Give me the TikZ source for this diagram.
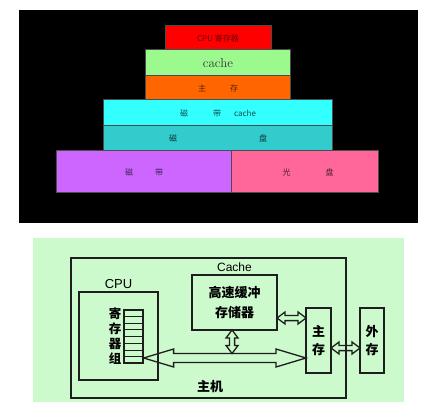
\documentclass[tikz,border=0pt]{standalone}
\usepackage{fontspec}
\setsansfont{Liberation Sans}
\newfontfamily\cjk{Noto Sans CJK SC}
\usetikzlibrary{positioning, calc, backgrounds}
\definecolor{RegRed}{HTML}{FF0000}
\definecolor{CacheGreen}{HTML}{9CF98E}
\definecolor{MemOrange}{HTML}{FF6600}
\definecolor{TapeCyan}{HTML}{33FFFF}
\definecolor{DiskTeal}{HTML}{33CCCC}
\definecolor{TapeViolet}{HTML}{CC66FF}
\definecolor{OpticPink}{HTML}{FF6699}
\definecolor{PanelGreen}{HTML}{CCFACC}
\definecolor{InkGray}{HTML}{1E1E1E}
% hollow two-headed arrow: from, to, shaft half width, head half width, head length
\newcommand{\hollowarrow}[5]{%
    \filldraw[fill=PanelGreen, draw=InkGray, line width=1.3pt, line join=miter]
        (#1) -- ($(#1)!#5!(#2)!#4!90:(#2)$) -- ($(#1)!#5!(#2)!#3!90:(#2)$)
        -- ($(#2)!#5!(#1)!#3!90:(#2)$) -- ($(#2)!#5!(#1)!#4!90:(#2)$)
        -- (#2) -- ($(#2)!#5!(#1)!#4!-90:(#2)$) -- ($(#2)!#5!(#1)!#3!-90:(#2)$)
        -- ($(#1)!#5!(#2)!#3!-90:(#2)$) -- ($(#1)!#5!(#2)!#4!-90:(#2)$) -- cycle;}
\tikzset{
  layer/.style={draw=black!70, line width=1pt, outer sep=0pt, inner sep=0pt,
                font=\cjk\fontsize{8}{9}\selectfont},
  unit/.style={draw=InkGray, outer sep=0pt, inner sep=0pt, align=center,
               font=\cjk\bfseries\fontsize{13}{18}\selectfont}
}

\begin{document}
\begin{tikzpicture}[x=1pt, y=-1pt]
    \useasboundingbox (0,0) rectangle (437,417);

    % Storage pyramid
    \node[layer, fill=RegRed, text=RegRed!40!black, minimum width=106, minimum height=24] (reg) at (218,38) {CPU 寄存器};
    \node[layer, fill=CacheGreen, text=black!80, minimum width=145, minimum height=26,
          font=\fontsize{13}{14}\selectfont, below=0pt of reg] (cache) {cache};
    \node[layer, fill=MemOrange, text=MemOrange!35!black, minimum width=145, minimum height=24,
          below=0pt of cache] (mem) {主\hspace{24pt}存};
    \node[layer, fill=TapeCyan, text=TapeCyan!30!black, minimum width=229, minimum height=26,
          below=0pt of mem] (tcache) {磁\hspace{25pt}带\hspace{13pt}cache\hspace{13pt}};
    \node[layer, fill=DiskTeal, text=DiskTeal!25!black, minimum width=229, minimum height=25,
          below=0pt of tcache] (disk) {磁\hspace{82pt}盘};
    \node[layer, fill=TapeViolet, text=TapeViolet!30!black, minimum width=175, minimum height=42,
          anchor=north east] (tape) at ([xshift=13.5pt]disk.south) {磁\hspace{22pt}带};
    \node[layer, fill=OpticPink, text=OpticPink!30!black, minimum width=147, minimum height=42,
          right=0pt of tape] (optic) {\hspace{6pt}光\hspace{35pt}盘};

    % Host with cache
    \node[unit, line width=1.5pt, minimum width=275, minimum height=140] (host) at (208.5,328) {};
    \node[unit, line width=2.5pt, minimum width=79, minimum height=88] (cpu) at (118.5,336) {};
    \node[font=\sffamily\fontsize{13}{14}\selectfont, above=0pt of cpu] (cpulbl) {CPU};
    \node[unit, line width=2.5pt, minimum width=85, minimum height=55,
          font=\cjk\bfseries\fontsize{13}{20}\selectfont] (buf) at (234.5,302.5) {高速缓冲\\存储器};
    \node[font=\sffamily\fontsize{12}{14}\selectfont, above=0pt of buf] (buflbl) {Cache};
    \node[draw=InkGray, line width=1.2pt, minimum width=19, minimum height=53, inner sep=0pt] (regs) at (133.5,336.5) {};
    \foreach \k in {1,...,7}
        \draw[InkGray, line width=0.8pt] ($(regs.north west)!\k/8!(regs.south west)$) -- ($(regs.north east)!\k/8!(regs.south east)$);
    \node[unit, draw=none, font=\cjk\bfseries\fontsize{12.5}{15}\selectfont, left=2pt of regs] (regslbl) {寄\\存\\器\\组};
    \node[unit, line width=1.8pt, minimum width=25, minimum height=65] (mainmem) at (318.5,340.5) {主\\存};
    \node[unit, line width=2pt, minimum width=24, minimum height=65] (extmem) at (372,340.5) {外\\存};
    \node[font=\cjk\bfseries\fontsize{13}{14}\selectfont] (hostlbl) at (210,387) {主机};

    \coordinate (busL) at ([yshift=-21.5pt]regs.east);
    \coordinate (busR) at (busL -| mainmem.west);
    \coordinate (busTop) at ([xshift=-2.5pt,yshift=4.5pt]busL -| buf.south);
    \coordinate (bufBot) at ([xshift=-2.5pt]buf.south);
    \coordinate (bm) at ([yshift=-15.5pt]buf.east);
    \coordinate (bmR) at (bm -| mainmem.west);
    \coordinate (me) at ([yshift=-7.5pt]mainmem.east);
    \coordinate (meR) at (me -| extmem.west);

    \begin{scope}[on background layer]
        \fill[black] (19,10) rectangle (418,223);
        \fill[PanelGreen] (33,238) rectangle (404,402);
        \hollowarrow{busL}{busR}{4.5pt}{9pt}{30pt}
        \hollowarrow{bufBot}{busTop}{2.6pt}{6pt}{8pt}
        \hollowarrow{bm}{bmR}{2.6pt}{6pt}{8pt}
        \hollowarrow{me}{meR}{2.6pt}{6pt}{8pt}
    \end{scope}
\end{tikzpicture}
\end{document}
